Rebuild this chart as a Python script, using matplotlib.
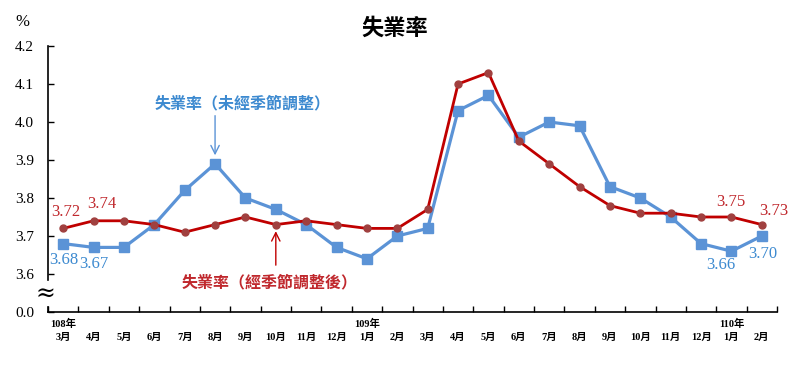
import matplotlib.pyplot as plt

months = ["3月", "4月", "5月", "6月", "7月", "8月", "9月", "10月", "11月", "12月",
          "1月", "2月", "3月", "4月", "5月", "6月", "7月", "8月", "9月", "10月",
          "11月", "12月", "1月", "2月"]
years = {0: "108年", 10: "109年", 22: "110年"}

# unemployment rate, not seasonally adjusted / seasonally adjusted (%)
rate_nsa = [3.68, 3.67, 3.67, 3.73, 3.82, 3.89, 3.80, 3.77, 3.73, 3.67, 3.64, 3.70,
            3.72, 4.03, 4.07, 3.96, 4.00, 3.99, 3.83, 3.80, 3.75, 3.68, 3.66, 3.70]
rate_sa = [3.72, 3.74, 3.74, 3.73, 3.71, 3.73, 3.75, 3.73, 3.74, 3.73, 3.72, 3.72,
           3.77, 4.10, 4.13, 3.95, 3.89, 3.83, 3.78, 3.76, 3.76, 3.75, 3.75, 3.73]

yticks = [3.5, 3.6, 3.7, 3.8, 3.9, 4.0, 4.1, 4.2]
ytick_labels = ["0.0", "3.6", "3.7", "3.8", "3.9", "4.0", "4.1", "4.2"]

# which points get a value label, with pixel offsets
nsa_labels = {0: (1, -16), 1: (0, -17), 22: (-11, -14), 23: (1, -18)}
sa_labels = {0: (3, 16), 1: (8, 17), 22: (-1, 15), 23: (12, 14)}

BLUE = "#5B93D6"
BLUE_TXT = "#3D8AD0"
RED = "#C00000"
RED_MK = "#A0403F"
RED_TXT = "#C0282D"
CJK = ["Noto Sans CJK TC"]
SERIF = ["Liberation Serif", "Noto Sans CJK TC"]

fig = plt.figure(figsize=(8.06, 3.7), dpi=100)
ax = fig.add_axes([48 / 806, 1 - 312 / 370, 729 / 806, 266 / 370])

x = list(range(len(months)))
ax.plot(x, rate_nsa, color=BLUE, lw=2.3, marker="s", ms=6.5, mfc=BLUE, mec=BLUE, zorder=3)
ax.plot(x, rate_sa, color=RED, lw=2.0, marker="o", ms=5, mfc=RED_MK, mec=RED_MK, zorder=4)

for i, (dx, dy) in nsa_labels.items():
    ax.annotate(f"{rate_nsa[i]:.2f}", xy=(i, rate_nsa[i]), xytext=(dx, dy),
                textcoords="offset pixels", ha="center", va="center",
                color=BLUE_TXT, fontsize=12, family=SERIF)
for i, (dx, dy) in sa_labels.items():
    ax.annotate(f"{rate_sa[i]:.2f}", xy=(i, rate_sa[i]), xytext=(dx, dy),
                textcoords="offset pixels", ha="center", va="center",
                color=RED_TXT, fontsize=12, family=SERIF)

# series name callouts
ax.text(5.9, 4.05, "失業率（未經季節調整）", color=BLUE_TXT, fontsize=11.5,
        fontweight="bold", family=CJK, ha="center", va="center")
ax.annotate("", xy=(5, rate_nsa[5] + 0.015), xytext=(5, 4.024),
            arrowprops=dict(arrowstyle="->,head_length=0.6,head_width=0.3", color=BLUE, lw=1.0))
ax.text(6.8, 3.579, "失業率（經季節調整後）", color=RED_TXT, fontsize=11.5,
        fontweight="bold", family=CJK, ha="center", va="center")
ax.annotate("", xy=(7, rate_sa[7] - 0.01), xytext=(7, 3.616),
            arrowprops=dict(arrowstyle="->,head_length=0.6,head_width=0.3", color=RED, lw=1.0))

ax.set_xlim(-0.5, len(months) - 0.5)
ax.set_ylim(3.5, 4.2)
ax.set_yticks(yticks)
ax.set_yticklabels(ytick_labels, family=SERIF, fontsize=11)
ax.set_xticks([i + 0.5 for i in range(-1, len(months))])
ax.set_xticklabels([])
ax.tick_params(axis="y", direction="in", length=4, width=1, pad=10)
ax.tick_params(axis="x", direction="in", length=4, width=1)

for i, m in enumerate(months):
    ax.text(i, -0.095, m, transform=ax.get_xaxis_transform(), ha="center", va="center",
            fontsize=7.5, fontweight="bold", family=SERIF)
    if i in years:
        ax.text(i, -0.045, years[i], transform=ax.get_xaxis_transform(), ha="center",
                va="center", fontsize=7.5, fontweight="bold", family=SERIF)

for s in ["top", "right"]:
    ax.spines[s].set_visible(False)
ax.spines["left"].set_bounds(3.585, 4.2)
ax.spines["left"].set_linewidth(1.2)
ax.spines["bottom"].set_linewidth(1.2)
ax.plot([0, 0], [0, 0.02], transform=ax.transAxes, color="black", lw=1.2, clip_on=False)
ax.text(-0.004, 0.07, "≈", transform=ax.transAxes, ha="center", va="center",
        fontsize=17, family=["DejaVu Serif"])

fig.text(22 / 806, 1 - 22 / 370, "%", ha="center", va="center", fontsize=12, family=SERIF)
fig.text(395 / 806, 1 - 28 / 370, "失業率", ha="center", va="center", fontsize=16,
         fontweight="bold", family=CJK)

fig.savefig("out.png", dpi=100)
